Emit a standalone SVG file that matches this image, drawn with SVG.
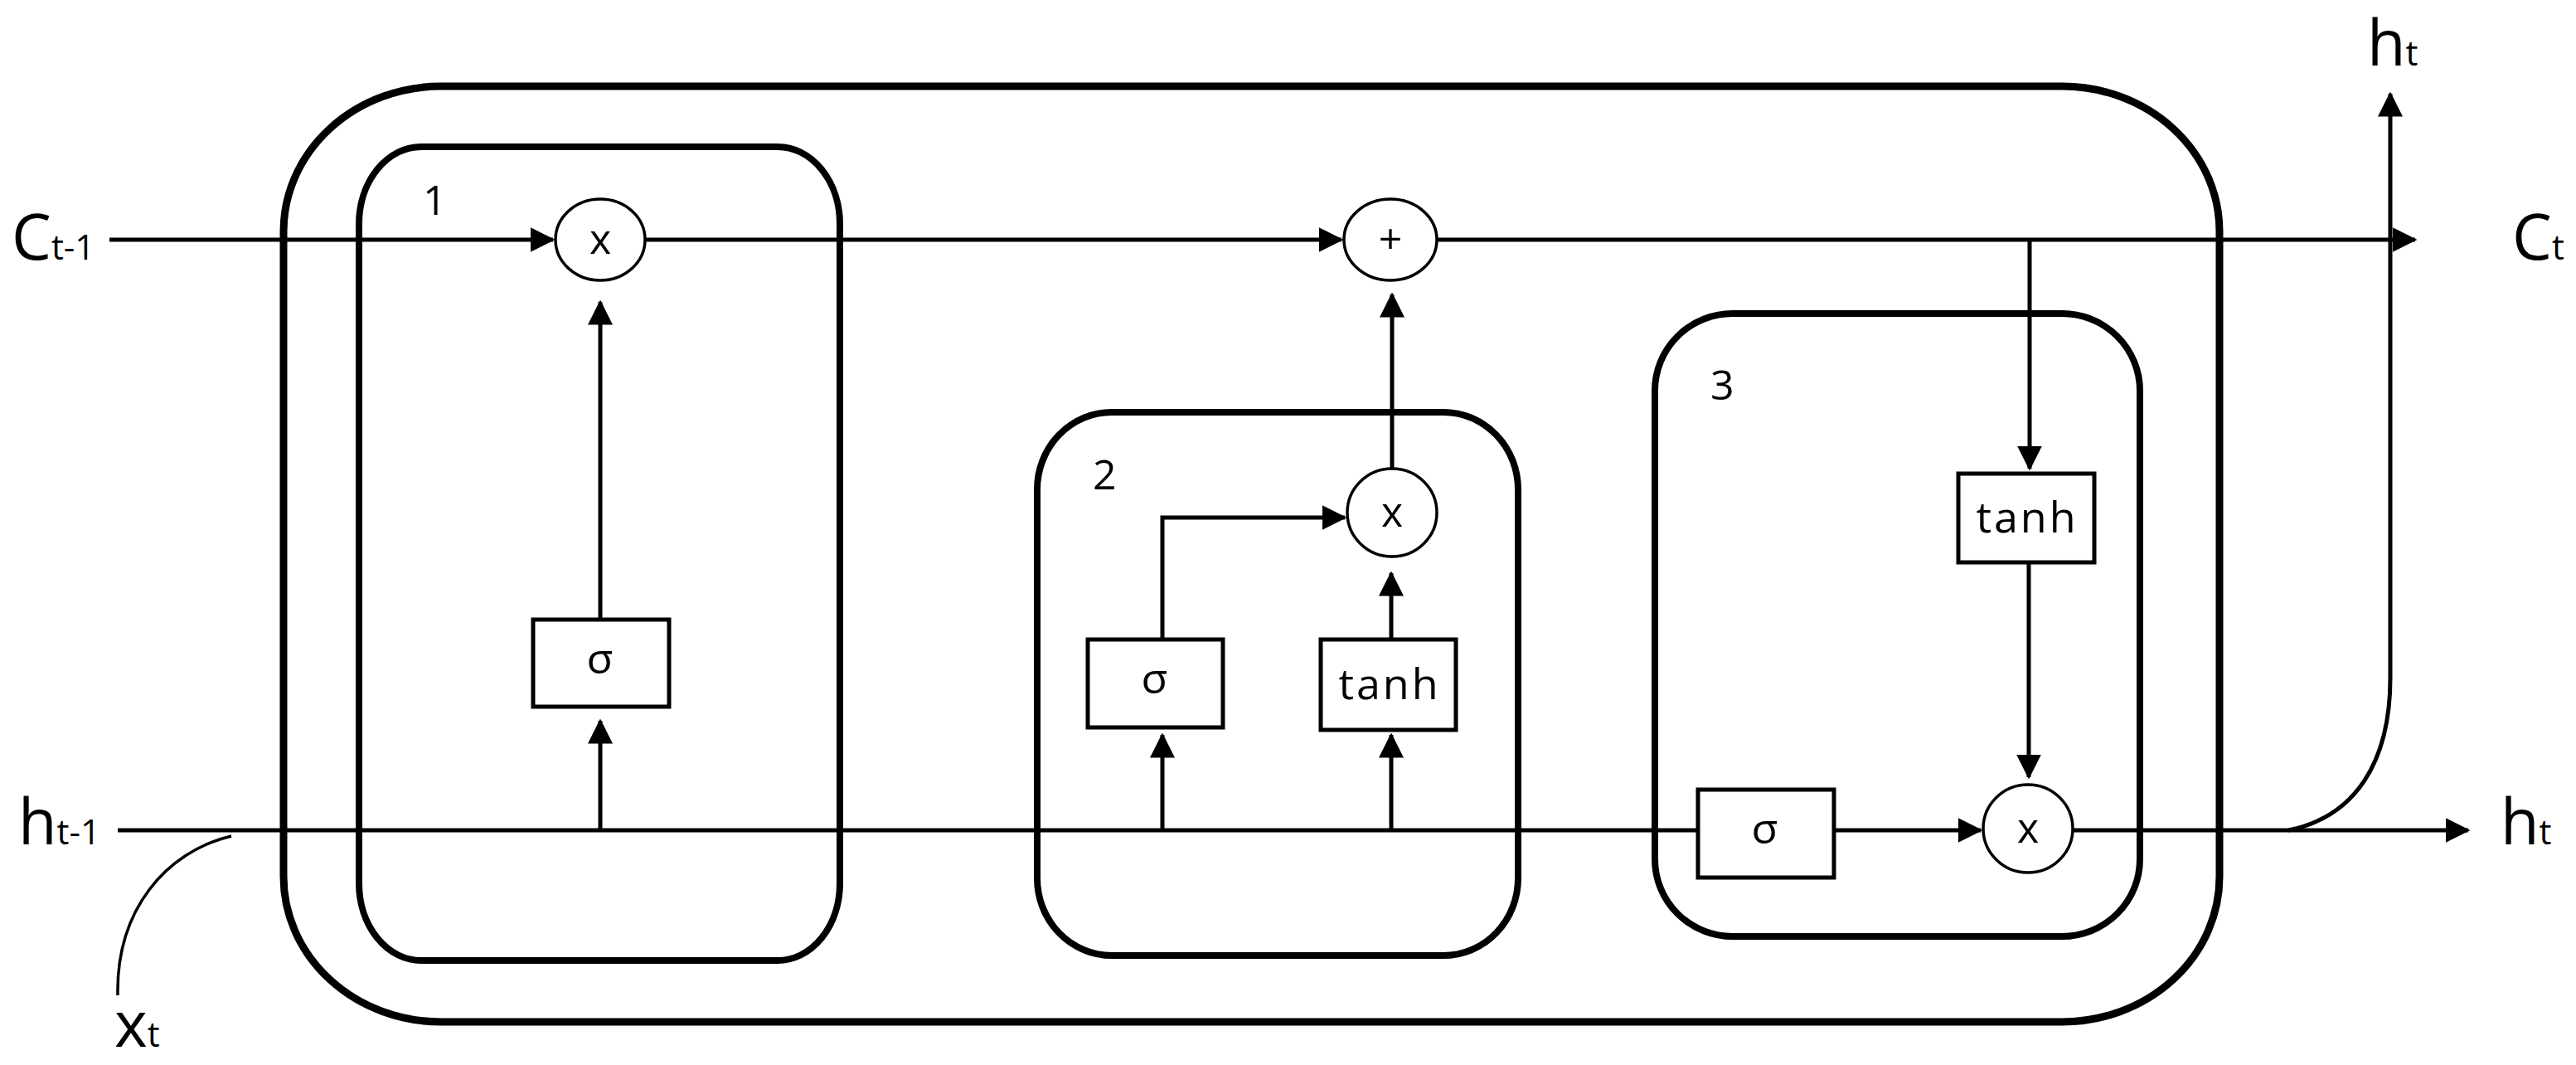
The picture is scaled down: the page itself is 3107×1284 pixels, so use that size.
<svg xmlns="http://www.w3.org/2000/svg" width="3107" height="1284" viewBox="0 0 3107 1284">
<style>
.big{fill:none;stroke:#000;stroke-width:9}
.gate{fill:none;stroke:#000;stroke-width:8}
.box{fill:#fff;stroke:#000;stroke-width:5}
.op{fill:#fff;stroke:#000;stroke-width:3.5}
.ln{fill:none;stroke:#000;stroke-width:5}
.arr{fill:none;stroke:#000;stroke-width:5;marker-end:url(#ah)}
.t{font-family:"Open Sans","DejaVu Sans",sans-serif;fill:#000}
.lbl{font-size:76px}
.sub{font-size:42px}
.num{font-size:50px}
.fn{font-size:52px;letter-spacing:3px}
</style>
<defs>
<marker id="ah" markerWidth="6" markerHeight="6" refX="5.5" refY="3" orient="auto" markerUnits="strokeWidth">
<path d="M0,0 L6,3 L0,6 z" fill="#000"/>
</marker>
</defs>
<g id="cell"><rect class="big" x="342" y="104" width="2335" height="1128" rx="190" ry="175"/></g>
<g id="gate1"><rect class="gate" x="433" y="177" width="580" height="981" rx="75" ry="93"/><text class="t num" x="510" y="259">1</text></g>
<g id="gate2"><rect class="gate" x="1251" y="497" width="580" height="655" rx="90" ry="93"/><text class="t num" x="1318" y="590">2</text></g>
<g id="gate3"><rect class="gate" x="1996" y="378" width="585" height="751" rx="94" ry="93"/><text class="t num" x="2063" y="482">3</text></g>
<g id="connectors">
<path class="arr" d="M132,289 H667"/>
<path class="arr" d="M778,289 H1618"/>
<path class="arr" d="M1733,289 H2913"/>
<path class="ln" d="M142,1001 H2048"/>
<path class="arr" d="M724,1001 V869"/>
<path class="arr" d="M724,747 V364"/>
<path class="arr" d="M1402,1001 V886"/>
<path class="arr" d="M1678,1001 V886"/>
<path class="arr" d="M1402,771 V624 H1622"/>
<path class="arr" d="M1678,771 V691"/>
<path class="arr" d="M1679,566 V355"/>
<path class="arr" d="M2448,289 V565"/>
<path class="arr" d="M2447,678 V937"/>
<path class="arr" d="M2212,1001 H2389"/>
<path class="arr" d="M2500,1001 H2977"/>
<path class="ln" d="M2760,1001 C2840,985 2883,920 2883,817"/>
<path class="arr" d="M2883,817 V113"/>
<path d="M279,1008 C200,1027 140,1097 142,1200" fill="none" stroke="#000" stroke-width="3.5"/>
</g>
<g id="mul1"><ellipse class="op" cx="724" cy="289" rx="54" ry="49"/><text class="t num" x="724" y="306" text-anchor="middle">x</text></g>
<g id="plus"><ellipse class="op" cx="1677" cy="289" rx="56" ry="49"/><text class="t num" x="1677" y="306" text-anchor="middle">+</text></g>
<g id="mul2"><ellipse class="op" cx="1679" cy="618" rx="54" ry="53"/><text class="t num" x="1679" y="635" text-anchor="middle">x</text></g>
<g id="mul3"><ellipse class="op" cx="2446" cy="999" rx="54" ry="53"/><text class="t num" x="2446" y="1016" text-anchor="middle">x</text></g>
<g id="sig1"><rect class="box" x="643" y="747" width="164" height="105"/><text class="t fn" x="725" y="812" text-anchor="middle">σ</text></g>
<g id="sig2"><rect class="box" x="1312" y="771" width="163" height="106"/><text class="t fn" x="1394" y="836" text-anchor="middle">σ</text></g>
<g id="tanh2"><rect class="box" x="1593" y="771" width="163" height="109"/><text class="t fn" x="1676" y="843" text-anchor="middle">tanh</text></g>
<g id="tanh3"><rect class="box" x="2362" y="571" width="164" height="107"/><text class="t fn" x="2445" y="642" text-anchor="middle">tanh</text></g>
<g id="sig3"><rect class="box" x="2048" y="952" width="164" height="106"/><text class="t fn" x="2130" y="1017" text-anchor="middle">σ</text></g>
<g id="labels">
<text class="t lbl" x="14" y="313">C<tspan class="sub">t-1</tspan></text>
<text class="t lbl" x="22" y="1018">h<tspan class="sub">t-1</tspan></text>
<text class="t lbl" x="138" y="1262">x<tspan class="sub">t</tspan></text>
<text class="t lbl" x="3030" y="313">C<tspan class="sub">t</tspan></text>
<text class="t lbl" x="3016" y="1018">h<tspan class="sub">t</tspan></text>
<text class="t lbl" x="2855" y="79">h<tspan class="sub">t</tspan></text>
</g>
</svg>
